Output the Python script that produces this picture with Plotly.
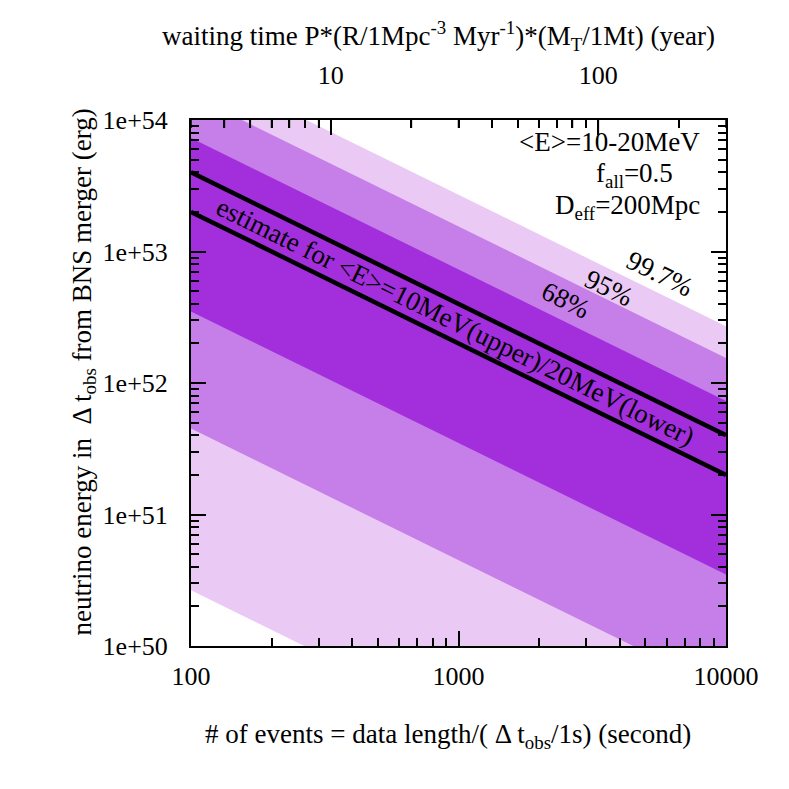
import math
import plotly.graph_objects as go

# number of events (bottom axis) and matching waiting time in years (top axis)
n_events = [100, 10000]
waiting_years = [3.0, 300.0]

# band edges (erg) read at n_events = 100 and 10000
band_997_upper = [2.7e54, 2.7e52]
band_997_lower = [2.65e50, 2.65e48]
band_95_upper = [1.55e54, 1.55e52]
band_95_lower = [4.5e51, 4.5e49]
band_68_upper = [7.3e53, 7.3e51]
band_68_lower = [3.5e52, 3.5e50]

# estimate lines: <E>=10MeV (upper) and 20MeV (lower)
line_10mev = [4.0e53, 4.0e51]
line_20mev = [2.0e53, 2.0e51]

y_tick_vals = [1e50, 1e51, 1e52, 1e53, 1e54]
y_tick_text = ["1e+50", "1e+51", "1e+52", "1e+53", "1e+54"]
x_tick_vals = [100, 1000, 10000]
top_tick_vals = [10, 100]
top_minor_vals = [3, 4, 5, 6, 7, 8, 9, 20, 30, 40, 50, 60, 70, 80, 90, 200, 300]

FONT = "Liberation Serif"
LIGHT = "#eacaf5"
MEDIUM = "#c67ee8"
DARK = "#a22edc"
Y_RANGE = [50, 54]
PX_PER_DECADE = 526 / 4


def band(upper, lower, color):
    return go.Scatter(
        x=n_events + n_events[::-1],
        y=upper + lower[::-1],
        fill="toself",
        fillcolor=color,
        line=dict(width=0),
        mode="lines",
        hoverinfo="skip",
        showlegend=False
    )


def minor_vals(lo, hi):
    return [d * 10.0 ** k for k in range(lo, hi) for d in range(2, 10)]


def top_ticks(vals, length_px):
    # inward ticks of the waiting-time axis, mapped onto the events scale
    scale = n_events[0] / waiting_years[0]
    top = 10.0 ** Y_RANGE[1]
    end = top / 10 ** (length_px / PX_PER_DECADE)
    xs, ys = [], []
    for v in vals:
        xs += [v * scale, v * scale, None]
        ys += [top, end, None]
    return go.Scatter(
        x=xs, y=ys, mode="lines",
        line=dict(color="black", width=1.5),
        hoverinfo="skip", showlegend=False
    )


fig = go.Figure()

fig.add_trace(band(band_997_upper, band_997_lower, LIGHT))
fig.add_trace(band(band_95_upper, band_95_lower, MEDIUM))
fig.add_trace(band(band_68_upper, band_68_lower, DARK))

for vals in (line_10mev, line_20mev):
    fig.add_trace(go.Scatter(
        x=n_events, y=vals, mode="lines",
        line=dict(color="black", width=4.5),
        hoverinfo="skip", showlegend=False
    ))

fig.add_trace(top_ticks(top_tick_vals, 15))
fig.add_trace(top_ticks(top_minor_vals, 8))

# invisible trace to carry the top axis
fig.add_trace(go.Scatter(
    x=waiting_years, y=[1e50, 1e50], xaxis="x2", mode="markers",
    marker=dict(opacity=0), hoverinfo="skip", showlegend=False
))

axis_common = dict(
    showgrid=False,
    zeroline=False,
    showline=True,
    linecolor="black",
    linewidth=2,
    ticks="inside",
    ticklen=15,
    tickwidth=1.5,
    tickcolor="black",
    tickfont=dict(family=FONT, size=26, color="black"),
)
minor_common = dict(ticks="inside", ticklen=8, tickwidth=1.5, tickcolor="black")

fig.update_layout(
    width=789,
    height=789,
    margin=dict(l=183, r=71, t=112, b=151),
    plot_bgcolor="white",
    paper_bgcolor="white",
    font=dict(family=FONT, size=26, color="black"),
    xaxis=dict(
        axis_common,
        type="log",
        range=[math.log10(n_events[0]), math.log10(n_events[1])],
        tickvals=x_tick_vals,
        ticktext=[str(v) for v in x_tick_vals],
        mirror=True,
        ticklabelstandoff=6,
        minor=dict(minor_common, tickvals=minor_vals(2, 4)),
    ),
    yaxis=dict(
        axis_common,
        type="log",
        range=Y_RANGE,
        tickvals=y_tick_vals,
        ticktext=y_tick_text,
        mirror="ticks",
        ticklabelstandoff=16,
        minor=dict(minor_common, tickvals=minor_vals(50, 54)),
    ),
    xaxis2=dict(
        axis_common,
        type="log",
        overlaying="x",
        side="top",
        anchor="y",
        range=[math.log10(waiting_years[0]), math.log10(waiting_years[1])],
        tickvals=top_tick_vals,
        ticktext=[str(v) for v in top_tick_vals],
        ticklabelstandoff=24,
        minor=dict(minor_common, tickvals=top_minor_vals),
    ),
)

angle = 26.2
notes = [
    dict(x=2.99, y=math.log10(2.9e52), text="estimate for &lt;E&gt;=10MeV(upper)/20MeV(lower)"),
    dict(x=3.755, y=52.83, text="99.7%"),
    dict(x=3.562, y=52.72, text="95%"),
    dict(x=3.4, y=52.63, text="68%"),
]
for n in notes:
    fig.add_annotation(
        x=n["x"], y=n["y"], xref="x", yref="y", text=n["text"],
        textangle=angle, showarrow=False,
        xanchor="center", yanchor="middle",
        font=dict(family=FONT, size=27, color="black")
    )

corner = [
    dict(x=0.955, y=0.958, text="&lt;E&gt;=10-20MeV"),
    dict(x=0.905, y=0.895, text="f<sub>all</sub>=0.5"),
    dict(x=0.955, y=0.834, text="D<sub>eff</sub>=200Mpc"),
]
for c in corner:
    fig.add_annotation(
        x=c["x"], y=c["y"], xref="paper", yref="paper", text=c["text"],
        xanchor="right", yanchor="middle", showarrow=False,
        font=dict(family=FONT, size=27, color="black")
    )

titles = [
    dict(x=0.462, y=1.16, angle=0,
         text="waiting time P*(R/1Mpc<sup>-3</sup> Myr<sup>-1</sup>)*(M<sub>T</sub>/1Mt) (year)"),
    dict(x=0.48, y=-0.172, angle=0,
         text="# of events = data length/( Δ t<sub>obs</sub>/1s) (second)"),
    dict(x=-0.2, y=0.52, angle=-90,
         text="neutrino energy in  Δ t<sub>obs</sub> from BNS merger (erg)"),
]
for t in titles:
    fig.add_annotation(
        x=t["x"], y=t["y"], xref="paper", yref="paper", showarrow=False,
        xanchor="center", yanchor="middle", textangle=t["angle"],
        text=t["text"],
        font=dict(family=FONT, size=27, color="black")
    )

fig.write_html("out.html")
